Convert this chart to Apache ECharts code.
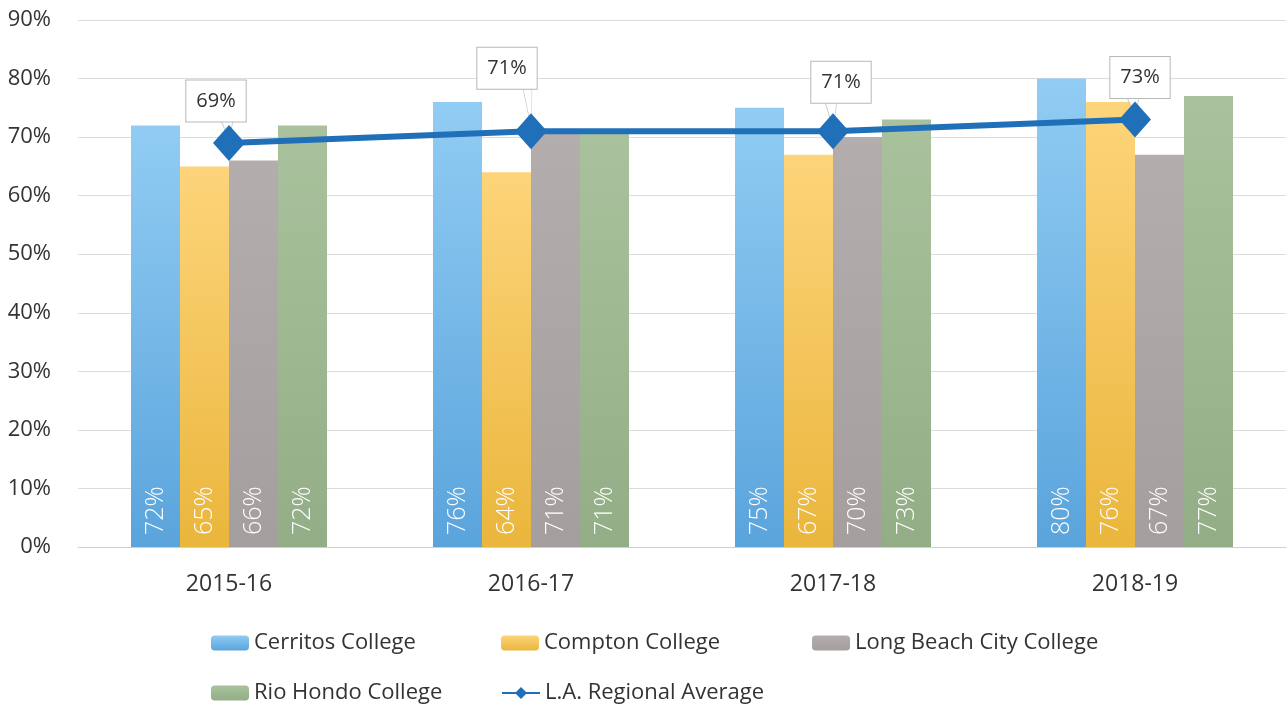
<!DOCTYPE html>
<html>
<head>
<meta charset="utf-8">
<script src="https://cdn.jsdelivr.net/npm/echarts@6/dist/echarts.min.js"></script>
<style>
  html, body { margin: 0; padding: 0; background: #fff; }
  #chart { width: 1287px; height: 708px; }
</style>
</head>
<body>
<div id="chart"></div>
<script>
"use strict";

// values (percent)
const years = ["2015-16", "2016-17", "2017-18", "2018-19"];
const cerritos = [72, 76, 75, 80];
const compton = [65, 64, 67, 76];
const longBeach = [66, 71, 70, 67];
const rioHondo = [72, 71, 73, 77];
const regionalAvg = [69, 71, 71, 73];

const FONT = "'Open Sans', 'Noto Sans', sans-serif";
const INK = "#333333";
const LINE = "#1f70b8";

function grad(top, bottom) {
  return new echarts.graphic.LinearGradient(0, 0, 0, 1, [
    { offset: 0, color: top },
    { offset: 1, color: bottom },
  ]);
}

function barSeries(name, values, top, bottom) {
  return {
    name, type: "bar", data: values,
    barWidth: 49, barGap: "0%",
    itemStyle: { color: grad(top, bottom) },
    label: {
      show: true, position: "insideBottom", rotate: 90, distance: 12,
      align: "left", verticalAlign: "middle",
      formatter: "{c}%", color: "#fff", fontSize: 25, fontFamily: FONT,
      fontWeight: 300,
    },
  };
}

// callout box centre relative to each marker, and box half-height
const calloutOffsets = [[-13, -42], [-24, -63], [8, -49], [5, -42]];
const BOX_HALF = 21;

// little speech-bubble pointer from the box bottom down to the marker
function pointerSymbol([dx, dy]) {
  const by = dy + BOX_HALF - 1;
  const x1 = Math.max(-8, dx - 25), x2 = Math.min(4, dx + 25);
  const xs = [x1, x2, 0], ys = [by, by, -4];
  const minX = Math.min(...xs), maxX = Math.max(...xs);
  const minY = Math.min(...ys), maxY = Math.max(...ys);
  const pts = xs.map((x, i) => (x - minX) + "," + (ys[i] - minY));
  return {
    symbol: "path://M" + pts[0] + " L" + pts[1] + " L" + pts[2] + " Z",
    symbolSize: [maxX - minX, maxY - minY],
    symbolOffset: [(minX + maxX) / 2, (minY + maxY) / 2],
  };
}

const option = {
  animation: false,
  textStyle: { fontFamily: FONT },
  grid: { left: 78, right: 1, top: 20, bottom: 161 },
  xAxis: {
    type: "category", data: years,
    axisLine: { lineStyle: { color: "#cfcfcf" } },
    axisTick: { show: false },
    axisLabel: { color: INK, fontSize: 23, margin: 26, fontFamily: FONT },
  },
  yAxis: {
    type: "value", min: 0, max: 90, interval: 10,
    axisLine: { show: false }, axisTick: { show: false },
    splitLine: { lineStyle: { color: "#dcdcdc" } },
    axisLabel: { color: INK, fontSize: 22, margin: 27, fontFamily: FONT, formatter: "{value}%" },
  },
  legend: [
    ["Cerritos College", 206, 627],
    ["Compton College", 496, 627],
    ["Long Beach City College", 807, 627],
    ["Rio Hondo College", 206, 677],
    ["L.A. Regional Average", 496, 677],
  ].map(([name, left, top]) => ({
    data: [name], left, top,
    itemWidth: 38, itemHeight: 15, itemGap: 0,
    textStyle: { color: INK, fontSize: 22, fontFamily: FONT, padding: [0, 0, 0, 0] },
  })),
  series: [
    barSeries("Cerritos College", cerritos, "#91ccf3", "#5aa4dc"),
    barSeries("Compton College", compton, "#fdd47a", "#eab63c"),
    barSeries("Long Beach City College", longBeach, "#b3adad", "#a59e9e"),
    barSeries("Rio Hondo College", rioHondo, "#a9c29d", "#93ae87"),
    {
      name: "pointer", type: "scatter", z: 4, silent: true,
      data: regionalAvg.map((v, i) => ({ value: [i, v], ...pointerSymbol(calloutOffsets[i]) })),
      itemStyle: { color: "#fff", borderColor: "#b8b8b8", borderWidth: 1 },
    },
    {
      name: "L.A. Regional Average", type: "line", z: 5,
      data: regionalAvg.map((v, i) => ({
        value: v,
        label: { offset: calloutOffsets[i] },
      })),
      symbol: "diamond", symbolSize: [32, 36],
      lineStyle: { color: LINE, width: 6 },
      itemStyle: { color: LINE },
      label: {
        show: true, position: "inside", align: "center", verticalAlign: "middle",
        formatter: "{c}%", color: INK, fontSize: 20, fontFamily: FONT,
        backgroundColor: "#fff", borderColor: "#b8b8b8", borderWidth: 1,
        padding: [11, 10, 10, 10],
      },
    },
  ],
};

echarts.init(document.getElementById("chart")).setOption(option);
</script>
</body>
</html>
